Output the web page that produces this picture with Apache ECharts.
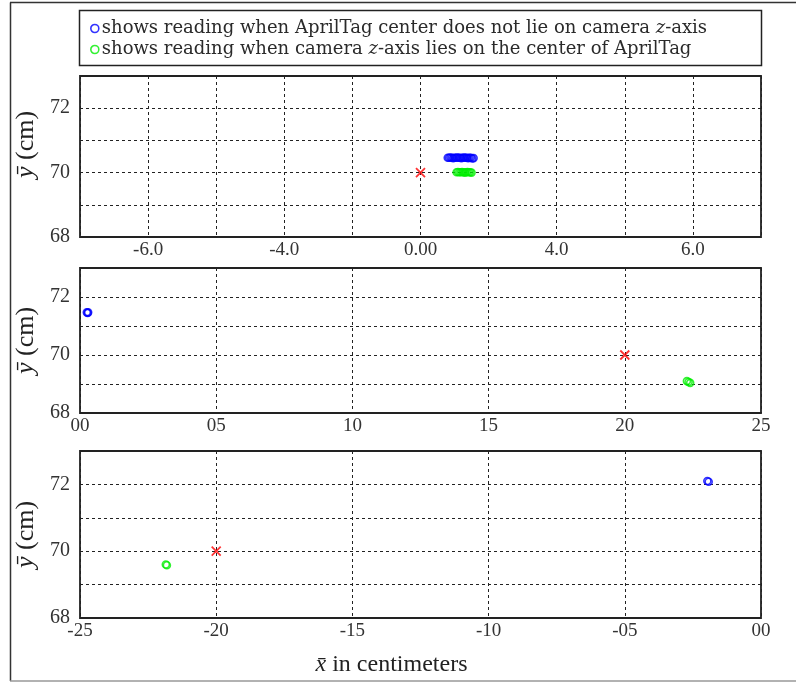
<!DOCTYPE html>
<html><head><meta charset="utf-8">
<script src="https://cdn.jsdelivr.net/npm/echarts@6/dist/echarts.min.js"></script>
<style>html,body{margin:0;padding:0;background:#fff}#c{width:796px;height:683px}</style>
</head><body><div id="c"></div>
<script>
// ---- data ----
const seriesNames = ['blue', 'green'];
const legendTexts = [
  'shows reading when AprilTag center does not lie on camera {i|z}-axis',
  'shows reading when camera {i|z}-axis lies on the center of AprilTag'
];
// panel 1
const p1BlueX = [0.40, 0.42, 0.44, 0.46, 0.48, 0.50, 0.52, 0.54, 0.56, 0.58, 0.60, 0.62, 0.64, 0.66, 0.68, 0.70, 0.72, 0.74, 0.76, 0.78];
const p1BlueY = [70.46, 70.46, 70.47, 70.46, 70.45, 70.46, 70.46, 70.47, 70.46, 70.46, 70.45, 70.46, 70.47, 70.46, 70.46, 70.45, 70.46, 70.46, 70.44, 70.45];
const p1GreenX = [0.53, 0.55, 0.57, 0.59, 0.61, 0.63, 0.65, 0.67, 0.69, 0.71, 0.73, 0.75];
const p1GreenY = [70.01, 70.02, 70.01, 70.01, 70.02, 70.01, 70.0, 70.01, 70.02, 70.01, 70.01, 70.0];
const p1Red = [[0, 70]];
// panel 2
const p2BlueX = [0.25, 0.28, 0.3];
const p2BlueY = [71.47, 71.45, 71.47];
const p2GreenX = [22.28, 22.34, 22.4];
const p2GreenY = [69.1, 69.07, 69.04];
const p2Red = [[20, 70]];
// panel 3
const p3BlueX = [-1.97, -1.92];
const p3BlueY = [72.1, 72.08];
const p3GreenX = [-21.85, -21.81];
const p3GreenY = [69.6, 69.58];
const p3Red = [[-20, 70]];
// tick labels
const p1TickVals = [-4, -2, 0, 2, 4];
const p1TickLabels = ['-6.0', '-4.0', '0.00', '4.0', '6.0'];
const p2TickVals = [0, 5, 10, 15, 20, 25];
const p2TickLabels = ['00', '05', '10', '15', '20', '25'];
const p3TickVals = [-25, -20, -15, -10, -5, 0];
const p3TickLabels = ['-25', '-20', '-15', '-10', '-05', '00'];
const yTickVals = [68, 70, 72];
const yTickLabels = ['68', '70', '72'];
const yAxisName = '{i|ȳ} (cm)';
const xAxisName = '{i|x̄} in centimeters';

// ---- helpers ----
const FONT = '"Liberation Serif", "DejaVu Serif", serif';
const LFONT = '"DejaVu Serif", "Liberation Serif", serif';
const zip = (xs, ys) => xs.map((x, i) => [x, ys[i]]);
const fmt = (vals, labs) => v => { const i = vals.findIndex(t => Math.abs(t - v) < 1e-9); return i >= 0 ? labs[i] : ''; };
const gridLine = { show: true, lineStyle: { color: '#222', type: [3, 3], width: 1 } };

const grids = [
  { left: 80, right: 35, top: 76, height: 161 },
  { left: 80, right: 35, top: 268, height: 145 },
  { left: 80, right: 35, top: 451, height: 167 }
].map(g => Object.assign(g, { show: true, borderColor: '#222', borderWidth: 1.8, backgroundColor: 'transparent' }));

const xRanges = [[-5, 5, 1, p1TickVals, p1TickLabels], [0, 25, 5, p2TickVals, p2TickLabels], [-25, 0, 5, p3TickVals, p3TickLabels]];
const xAxes = xRanges.map((r, i) => ({
  type: 'value', gridIndex: i, min: r[0], max: r[1], interval: r[2],
  axisLine: { show: false }, axisTick: { show: false },
  splitLine: gridLine,
  axisLabel: { formatter: fmt(r[3], r[4]), color: '#333', fontFamily: FONT, fontSize: 19, margin: 4, showMinLabel: true, showMaxLabel: true },
  name: i === 2 ? xAxisName : '', nameLocation: 'middle', nameGap: 35,
  nameTextStyle: { fontFamily: FONT, fontSize: 24, color: '#222', padding: [0, 58, 0, 0],
    rich: { i: { fontFamily: FONT, fontSize: 24, fontStyle: 'italic', color: '#222' } } }
}));
const yAxes = [0, 1, 2].map(i => ({
  type: 'value', gridIndex: i, min: 68, max: 73, interval: 1,
  axisLine: { show: false }, axisTick: { show: false },
  splitLine: gridLine,
  axisLabel: { formatter: fmt(yTickVals, yTickLabels), color: '#333', fontFamily: FONT, fontSize: 20, margin: 10, showMaxLabel: false },
  name: yAxisName, nameLocation: 'middle', nameGap: 35, nameRotate: 90,
  nameTextStyle: { fontFamily: FONT, fontSize: 26, color: '#222', padding: i === 0 ? [0, 0, 0, 24] : 0,
    rich: { i: { fontFamily: FONT, fontSize: 26, fontStyle: 'italic', color: '#222' } } }
}));

const circ = (name, color, data, i) => ({
  type: 'scatter', name, xAxisIndex: i, yAxisIndex: i, data, symbol: 'circle', symbolSize: 7,
  itemStyle: { color: 'rgba(255,255,255,0)', borderColor: color, borderWidth: 1.6 }, z: 3
});
const cross = (data, i) => ({
  type: 'scatter', name: 'ref', xAxisIndex: i, yAxisIndex: i, data,
  symbol: 'path://M0,0L10,10M0,10L10,0', symbolSize: 9,
  itemStyle: { color: 'rgba(0,0,0,0)', borderColor: '#ff0000', borderWidth: 1.8 }, z: 4
});

const series = [
  circ('blue', '#0000ff', zip(p1BlueX, p1BlueY), 0),
  circ('green', '#00ee00', zip(p1GreenX, p1GreenY), 0),
  cross(p1Red, 0),
  circ('blue', '#0000ff', zip(p2BlueX, p2BlueY), 1),
  circ('green', '#00ee00', zip(p2GreenX, p2GreenY), 1),
  cross(p2Red, 1),
  circ('blue', '#0000ff', zip(p3BlueX, p3BlueY), 2),
  circ('green', '#00ee00', zip(p3GreenX, p3GreenY), 2),
  cross(p3Red, 2)
];

const chart = echarts.init(document.getElementById('c'), null, { renderer: 'canvas' });
chart.setOption({
  animation: false,
  backgroundColor: '#fff',
  grid: grids, xAxis: xAxes, yAxis: yAxes, series,
  legend: {
    orient: 'vertical', left: 90, top: 18, itemGap: 0, itemWidth: 8, itemHeight: 8, padding: [0, 0, 0, 0],
    selectedMode: false,
    data: [
      { name: 'blue', icon: 'circle', itemStyle: { color: '#fff', borderColor: '#0000ff', borderWidth: 1.6 } },
      { name: 'green', icon: 'circle', itemStyle: { color: '#fff', borderColor: '#00ee00', borderWidth: 1.6 } }
    ],
    formatter: n => legendTexts[seriesNames.indexOf(n)],
    textStyle: { fontFamily: LFONT, fontSize: 18, color: '#2a2a2a', lineHeight: 21, padding: [0, 0, 0, -2],
      rich: { i: { fontFamily: LFONT, fontSize: 18, fontStyle: 'italic', color: '#2a2a2a', lineHeight: 21 } } }
  },
  graphic: [
    { type: 'rect', shape: { x: 79.5, y: 10.5, width: 682, height: 55 }, style: { fill: 'none', stroke: '#222', lineWidth: 1.5 } },
    { type: 'line', shape: { x1: 10.5, y1: 2.5, x2: 10.5, y2: 681 }, style: { stroke: '#333', lineWidth: 1.5 } },
    { type: 'line', shape: { x1: 10, y1: 2.5, x2: 796, y2: 2.5 }, style: { stroke: '#333', lineWidth: 1.5 } },
    { type: 'line', shape: { x1: 10, y1: 681, x2: 796, y2: 681 }, style: { stroke: '#999', lineWidth: 1.5 } }
  ]
});
</script></body></html>
